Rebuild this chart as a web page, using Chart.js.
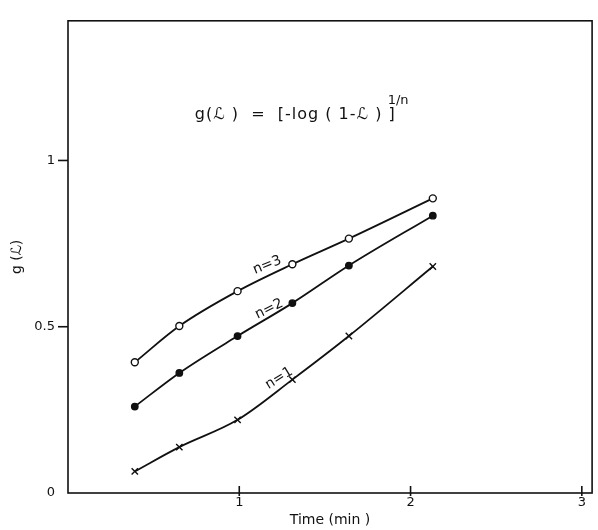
<!DOCTYPE html>
<html>
<head>
<meta charset="utf-8">
<script src="https://cdn.jsdelivr.net/npm/chart.js@4.4.1/dist/chart.umd.min.js"></script>
<style>
html,body{margin:0;padding:0;background:#fff;}
#wrap{width:598px;height:530px;}
</style>
</head>
<body>
<div id="wrap"><canvas id="c" width="598" height="530"></canvas></div>
<script>
// Data
const timeMin = [0.39, 0.65, 0.99, 1.31, 1.64, 2.13];
const n3 = [0.393, 0.502, 0.607, 0.688, 0.765, 0.886];
const n2 = [0.260, 0.361, 0.472, 0.571, 0.684, 0.834];
const n1 = [0.065, 0.138, 0.220, 0.341, 0.472, 0.681];
const xTicks = [1, 2, 3];
const yTicks = [0, 0.5, 1];
const yTickLabels = ['0', '0.5', '1'];
const seriesLabels = ['n=3', 'n=2', 'n=1'];
// label anchors in data units: [x, y, angleDeg]
const labelAnchors = [[1.163, 0.685, -22], [1.175, 0.553, -26], [1.233, 0.345, -32]];

const toPts = ys => timeMin.map((x, i) => ({x: x, y: ys[i]}));
const INK = '#111';

const framePlugin = {
  id: 'frame',
  afterDraw(chart) {
    const {ctx, chartArea: a, scales} = chart;
    ctx.save();
    ctx.strokeStyle = INK;
    ctx.lineWidth = 1.6;
    ctx.strokeRect(a.left, a.top, a.right - a.left, a.bottom - a.top);
    xTicks.forEach(v => {
      const px = scales.x.getPixelForValue(v);
      ctx.beginPath(); ctx.moveTo(px, a.bottom - 7); ctx.lineTo(px, a.bottom + 3); ctx.stroke();
    });
    yTicks.forEach(v => {
      if (v === 0) return;
      const py = scales.y.getPixelForValue(v);
      ctx.beginPath(); ctx.moveTo(a.left - 10, py); ctx.lineTo(a.left, py); ctx.stroke();
    });
    ctx.fillStyle = INK;
    ctx.font = '14px "DejaVu Sans"';
    ctx.textAlign = 'center';
    ctx.textBaseline = 'middle';
    labelAnchors.forEach((p, i) => {
      const px = scales.x.getPixelForValue(p[0]);
      const py = scales.y.getPixelForValue(p[1]);
      ctx.save();
      ctx.translate(px, py);
      ctx.rotate(p[2] * Math.PI / 180);
      ctx.fillText(seriesLabels[i], 0, 0);
      ctx.restore();
    });
    ctx.textAlign = 'left';
    ctx.textBaseline = 'alphabetic';
    ctx.font = '16px "DejaVu Sans"';
    ctx.letterSpacing = '1px';
    const ex = scales.x.getPixelForValue(0.74);
    const ey = scales.y.getPixelForValue(1.125);
    const eq = 'g(ℒ )  =  [-log ( 1-ℒ ) ]';
    ctx.fillText(eq, ex, ey);
    const w = ctx.measureText(eq).width;
    ctx.font = '13px "DejaVu Sans"';
    ctx.letterSpacing = '0px';
    ctx.fillText('1/n', ex + w - 8, ey - 15);
    ctx.restore();
  }
};

const common = {
  showLine: true,
  borderColor: INK,
  borderWidth: 1.8,
  cubicInterpolationMode: 'monotone',
  pointBorderColor: INK,
  pointBorderWidth: 1.4,
  fill: false
};

new Chart(document.getElementById('c'), {
  type: 'scatter',
  data: {
    datasets: [
      Object.assign({}, common, {label: seriesLabels[0], data: toPts(n3), pointStyle: 'circle', pointRadius: 3.5, pointBackgroundColor: '#fff'}),
      Object.assign({}, common, {label: seriesLabels[1], data: toPts(n2), pointStyle: 'circle', pointRadius: 3.2, pointBackgroundColor: INK}),
      Object.assign({}, common, {label: seriesLabels[2], data: toPts(n1), pointStyle: 'crossRot', pointRadius: 4.5, pointBackgroundColor: INK})
    ]
  },
  options: {
    responsive: false,
    animation: false,
    layout: {padding: {top: 16, right: 4, left: 0, bottom: 0}},
    plugins: {legend: {display: false}, tooltip: {enabled: false}},
    scales: {
      x: {
        type: 'linear', min: 0, max: 3.06,
        afterBuildTicks: s => { s.ticks = xTicks.map(v => ({value: v})); },
        afterFit: s => { s.height = 37; },
        grid: {display: false, drawTicks: false},
        border: {display: false},
        ticks: {color: INK, font: {family: 'DejaVu Sans', size: 13}, padding: 2, maxRotation: 0},
        title: {display: true, text: 'Time (min )', color: INK, font: {family: 'DejaVu Sans', size: 14}, padding: {top: 0, bottom: 1}}
      },
      y: {
        type: 'linear', min: 0, max: 1.42,
        afterBuildTicks: s => { s.ticks = yTicks.map(v => ({value: v})); },
        afterFit: s => { s.width = 68; },
        grid: {display: false, drawTicks: false},
        border: {display: false},
        ticks: {color: INK, font: {family: 'DejaVu Sans', size: 13}, padding: 13,
          callback: v => { const i = yTicks.indexOf(v); return i >= 0 ? yTickLabels[i] : ''; }},
        title: {display: true, text: 'g (ℒ)', color: INK, font: {family: 'DejaVu Sans', size: 14}, padding: {top: 9, bottom: 0}}
      }
    }
  },
  plugins: [framePlugin]
});
</script>
</body>
</html>
